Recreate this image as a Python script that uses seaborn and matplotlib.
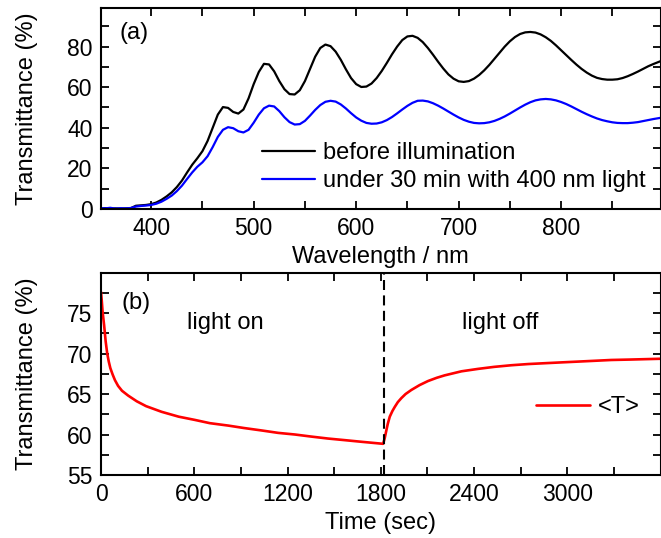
import numpy as np
import pandas as pd
import matplotlib
matplotlib.use("Agg")
import matplotlib.pyplot as plt
from matplotlib.ticker import MultipleLocator
import seaborn as sns

# ---------------- data: panel (a) ----------------
wavelength = [350, 355, 360, 365, 370, 375, 380, 385, 390, 395, 400, 405, 410, 415, 420, 425, 430, 435,
              440, 445, 450, 455, 460, 465, 470, 475, 480, 485, 490, 495, 500, 505, 510, 515, 520, 525,
              530, 535, 540, 545, 550, 555, 560, 565, 570, 575, 580, 585, 590, 595, 600, 605, 610, 615,
              620, 625, 630, 635, 640, 645, 650, 655, 660, 665, 670, 675, 680, 685, 690, 695, 700, 705,
              710, 715, 720, 725, 730, 735, 740, 745, 750, 755, 760, 765, 770, 775, 780, 785, 790, 795,
              800, 805, 810, 815, 820, 825, 830, 835, 840, 845, 850, 855, 860, 865, 870, 875, 880, 885, 890, 897]
before = [0.3, 0.4, 0.2, 0.3, 0.2, 0.3, 0.4, 1.6, 1.8, 2.0, 2.4, 3.2, 4.5, 6.2, 8.2, 10.8, 14.0, 18.0,
          21.8, 25.0, 28.5, 33.5, 40.0, 46.5, 50.2, 49.8, 47.8, 47.0, 49.0, 54.5, 61.5, 67.5, 71.5, 71.2, 67.8, 63.0,
          59.0, 56.6, 56.4, 58.5, 63.0, 69.0, 75.0, 79.3, 81.0, 80.2, 77.5, 73.5, 68.8, 64.5, 61.5, 60.1, 60.3, 61.8,
          64.5, 68.0, 72.0, 76.2, 80.0, 83.2, 85.0, 85.3, 84.3, 82.2, 79.3, 76.0, 72.5, 69.2, 66.3, 64.2, 62.9, 62.6,
          63.0, 64.2, 66.0, 68.3, 71.0, 74.0, 77.0, 80.0, 82.6, 84.7, 86.2, 87.0, 87.2, 86.9, 86.0, 84.6, 82.8, 80.6,
          78.2, 75.8, 73.4, 71.1, 69.0, 67.2, 65.7, 64.6, 64.0, 63.7, 63.7, 63.9, 64.5, 65.4, 66.5, 67.7, 69.0, 70.3, 71.4, 72.8]
after = [0.5, 0.3, 0.6, 0.2, 0.4, 0.3, 0.5, 1.2, 1.5, 1.7, 2.0, 2.6, 3.6, 5.0, 6.6, 8.8, 11.5, 14.8,
         18.0, 20.8, 23.0, 26.0, 30.5, 35.5, 39.0, 40.3, 39.8, 38.3, 37.7, 39.0, 42.5, 46.5, 49.6, 50.9, 50.5, 48.2,
         45.2, 42.8, 41.6, 41.8, 43.4, 46.0, 48.8, 51.2, 52.8, 53.3, 52.9, 51.5, 49.5, 47.2, 45.1, 43.5, 42.4, 42.0,
         42.1, 42.7, 43.8, 45.3, 47.1, 49.0, 50.8, 52.3, 53.3, 53.4, 53.0, 52.1, 50.9, 49.5, 48.0, 46.5, 45.1, 43.9,
         43.0, 42.4, 42.2, 42.3, 42.7, 43.4, 44.4, 45.6, 47.0, 48.5, 50.0, 51.4, 52.6, 53.5, 54.0, 54.2, 54.0, 53.5,
         52.7, 51.7, 50.5, 49.2, 47.9, 46.7, 45.6, 44.6, 43.8, 43.2, 42.7, 42.4, 42.3, 42.3, 42.5, 42.8, 43.3, 43.8, 44.3, 44.9]

# ---------------- data: panel (b) ----------------
time_s = [0, 5, 10, 20, 30, 40, 50, 60, 75, 90, 110, 135, 175, 230, 290, 390, 500, 604, 700, 819, 920,
          1033, 1140, 1247, 1350, 1461, 1570, 1676, 1760, 1815,
          1822, 1826, 1836, 1845, 1858, 1875, 1890, 1910, 1933, 1960, 1997, 2050, 2104, 2160, 2211, 2265,
          2319, 2426, 2530, 2640, 2750, 2854, 2960, 3069, 3176, 3283, 3400, 3500, 3600]
trans_T = [77.6, 76.5, 75.2, 73.5, 71.5, 70.0, 69.0, 68.2, 67.4, 66.7, 66.0, 65.4, 64.8, 64.1, 63.5, 62.8, 62.2,
           61.8, 61.4, 61.1, 60.8, 60.5, 60.2, 60.0, 59.75, 59.5, 59.3, 59.1, 58.95, 58.85,
           59.3, 59.6, 60.5, 61.3, 62.2, 62.9, 63.4, 64.0, 64.5, 65.0, 65.5, 66.1, 66.6, 67.0, 67.3, 67.55,
           67.8, 68.1, 68.35, 68.55, 68.7, 68.8, 68.9, 69.0, 69.1, 69.2, 69.25, 69.3, 69.35]
switch_time = 1820

label_before = "before illumination"
label_after = "under 30 min with 400 nm light"
label_T = "<T>"

# ---------------- style ----------------
sns.set_style("ticks")
plt.rcParams["font.family"] = ["Liberation Sans", "DejaVu Sans"]
plt.rcParams.update({
    "axes.linewidth": 1.5,
    "text.color": "black",
    "axes.labelcolor": "black",
    "axes.edgecolor": "black",
    "xtick.color": "black",
    "ytick.color": "black",
})

W, H = 661, 538
fig = plt.figure(figsize=(W / 100, H / 100), dpi=100)

def frac_rect(l, t, r, b):
    return [l / W, 1 - b / H, (r - l) / W, (b - t) / H]

ax1 = fig.add_axes(frac_rect(101, 8, 660.5, 209))
ax2 = fig.add_axes(frac_rect(101, 272.5, 660.5, 475))

tick_fs = 16.5
label_fs = 17

# ---- panel (a)
df_a = pd.DataFrame({"wl": wavelength, "before": before, "after": after})
sns.lineplot(data=df_a, x="wl", y="before", ax=ax1, color="black", lw=1.6,
             label=label_before, estimator=None)
sns.lineplot(data=df_a, x="wl", y="after", ax=ax1, color="#0000ff", lw=1.6,
             label=label_after, estimator=None)
ax1.set_xlim(351, 897)
ax1.set_ylim(0, 99)
ax1.xaxis.set_major_locator(MultipleLocator(100))
ax1.xaxis.set_minor_locator(MultipleLocator(50))
ax1.yaxis.set_major_locator(MultipleLocator(20))
ax1.yaxis.set_minor_locator(MultipleLocator(10))
ax1.set_xlabel("Wavelength / nm", fontsize=label_fs, labelpad=4)
ax1.set_ylabel("Transmittance (%)", fontsize=label_fs, labelpad=21)
ax1.text(0.033, 0.875, "(a)", transform=ax1.transAxes, fontsize=label_fs,
         ha="left", va="center")
ax1.legend(loc="center left", bbox_to_anchor=(0.2878, 0.209), frameon=False,
           fontsize=label_fs, handlelength=2.25, handletextpad=0.35,
           labelspacing=0.25, borderpad=0, borderaxespad=0)

# ---- panel (b)
df_b = pd.DataFrame({"t": time_s, "T": trans_T})
sns.lineplot(data=df_b, x="t", y="T", ax=ax2, color="#ff0000", lw=1.9,
             label=label_T, estimator=None)
ax2.axvline(switch_time, color="black", lw=1.5, ls=(0, (4.8, 2.6)))
ax2.set_xlim(0, 3600)
ax2.set_ylim(55, 80)
ax2.xaxis.set_major_locator(MultipleLocator(600))
ax2.xaxis.set_minor_locator(MultipleLocator(300))
ax2.yaxis.set_major_locator(MultipleLocator(5))
ax2.yaxis.set_minor_locator(MultipleLocator(2.5))
ax2.set_xticks([0, 600, 1200, 1800, 2400, 3000])
ax2.set_yticks([55, 60, 65, 70, 75])
ax2.set_xlabel("Time (sec)", fontsize=label_fs, labelpad=4)
ax2.set_ylabel("Transmittance (%)", fontsize=label_fs, labelpad=21)
ax2.text(0.036, 0.85, "(b)", transform=ax2.transAxes, fontsize=label_fs,
         ha="left", va="center")
ax2.text(800, 73.8, "light on", fontsize=label_fs, ha="center", va="center")
ax2.text(2571, 73.8, "light off", fontsize=label_fs, ha="center", va="center")
ax2.legend(loc="center left", bbox_to_anchor=(0.7775, 0.336), frameon=False,
           fontsize=label_fs, handlelength=2.3, handletextpad=0.3,
           borderpad=0, borderaxespad=0)

for ax in (ax1, ax2):
    ax.tick_params(which="both", direction="in", top=True, right=True,
                   length=6, width=1.3, labelsize=tick_fs, pad=6,
                   color="black", labelcolor="black")
    for s in ax.spines.values():
        s.set_visible(True)
        s.set_linewidth(1.5)
        s.set_color("black")

fig.savefig("out.png", dpi=100)
